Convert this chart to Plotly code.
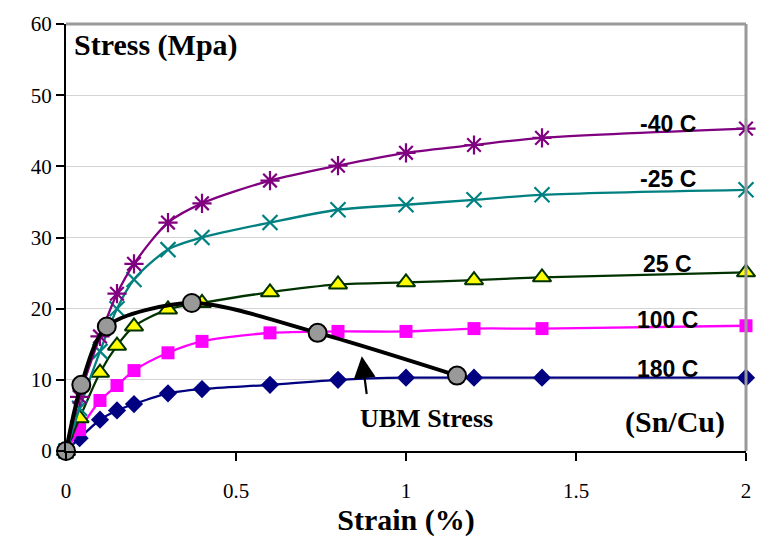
import plotly.graph_objects as go

# ---- data ----
strain = [0, 0.04, 0.1, 0.15, 0.2, 0.3, 0.4, 0.6, 0.8, 1.0, 1.2, 1.4, 2.0]
s_m40 = [0, 7.6, 16.1, 22.1, 26.3, 32.1, 34.8, 38.0, 40.1, 41.9, 43.0, 44.0, 45.3]
s_m25 = [0, 6.0, 14.0, 20.0, 24.1, 28.3, 30.0, 32.1, 33.9, 34.6, 35.3, 36.0, 36.7]
s_25 = [0, 4.6, 11.0, 14.8, 17.5, 19.9, 20.8, 22.3, 23.4, 23.7, 24.0, 24.4, 25.1]
s_100 = [0, 3.0, 7.1, 9.2, 11.3, 13.8, 15.4, 16.6, 16.8, 16.8, 17.2, 17.2, 17.6]
s_180 = [0, 1.8, 4.4, 5.7, 6.6, 8.1, 8.7, 9.3, 10.0, 10.3, 10.3, 10.3, 10.3]

ubm_strain = [0, 0.045, 0.12, 0.37, 0.74, 1.15]
ubm_stress = [0, 9.3, 17.5, 20.8, 16.6, 10.6]

series_labels = ["-40 C", "-25 C", "25 C", "100 C", "180 C"]
label_x = [1.77, 1.77, 1.77, 1.77, 1.77]
label_y = [46.0, 38.2, 26.3, 18.4, 11.5]

x_ticks = [0, 0.5, 1, 1.5, 2]
x_tick_text = ["0", "0.5", "1", "1.5", "2"]
y_ticks = [0, 10, 20, 30, 40, 50, 60]

SERIF = "Liberation Serif"
SANS = "Liberation Sans, Arial, sans-serif"

fig = go.Figure()

styles = [
    (s_180, "#000080", dict(symbol="diamond", size=14, color="#000080", line=dict(width=0))),
    (s_100, "#FF00FF", dict(symbol="square", size=13, color="#FF00FF", line=dict(width=0))),
    (s_25, "#003300", dict(symbol="triangle-up", size=16, color="#FFFF00", line=dict(width=2, color="#003300"))),
    (s_m25, "#008080", dict(symbol="x-thin-open", size=15, color="#008080", line=dict(width=2.2, color="#008080"))),
    (s_m40, "#800080", dict(symbol="asterisk-open", size=16, color="#800080", line=dict(width=2.2, color="#800080"))),
]
for ys, col, mk in styles:
    fig.add_trace(go.Scatter(
        x=strain, y=ys, mode="lines+markers",
        line=dict(color=col, width=2.3, shape="spline", smoothing=0.8),
        marker=mk, cliponaxis=False, showlegend=False, hoverinfo="skip"))

fig.add_trace(go.Scatter(
    x=ubm_strain, y=ubm_stress, mode="lines+markers",
    line=dict(color="black", width=4, shape="spline", smoothing=0.8),
    marker=dict(symbol="circle", size=18, color="#999999", line=dict(width=2, color="black")),
    cliponaxis=False, showlegend=False, hoverinfo="skip"))

annotations = []
for t, xv, yv in zip(series_labels, label_x, label_y):
    annotations.append(dict(x=xv, y=yv, xref="x", yref="y", text="<b>%s</b>" % t,
                            showarrow=False, font=dict(family=SANS, size=23, color="black"),
                            xanchor="center", yanchor="middle"))
annotations += [
    dict(x=0.018, y=57.1, xref="x", yref="y", text="<b>Stress (Mpa)</b>", showarrow=False,
         xanchor="left", yanchor="middle", font=dict(family=SERIF, size=30, color="black")),
    dict(x=1.06, y=4.6, xref="x", yref="y", text="<b>UBM Stress</b>", showarrow=False,
         xanchor="center", yanchor="middle", font=dict(family=SERIF, size=26, color="black")),
    dict(x=1.79, y=4.1, xref="x", yref="y", text="<b>(Sn/Cu)</b>", showarrow=False,
         xanchor="center", yanchor="middle", font=dict(family=SERIF, size=30, color="black")),
    dict(x=0.87, y=13.3, ax=0.885, ay=7.8, xref="x", yref="y", axref="x", ayref="y",
         text="", showarrow=True, arrowhead=2, arrowsize=2.0, arrowwidth=2.2, arrowcolor="black"),
]

fig.update_layout(
    width=763, height=542,
    margin=dict(l=66, r=17, t=17, b=90),
    paper_bgcolor="white", plot_bgcolor="white",
    annotations=annotations,
    shapes=[
        dict(type="line", xref="paper", yref="paper", x0=0, x1=1, y0=1, y1=1,
             line=dict(color="#999999", width=3)),
        dict(type="line", xref="paper", yref="paper", x0=1, x1=1, y0=0, y1=1,
             line=dict(color="#999999", width=3)),
    ],
    xaxis=dict(range=[0, 2], tickvals=x_ticks, ticktext=x_tick_text,
               showgrid=False, zeroline=False, showline=True, linecolor="black", linewidth=2,
               ticks="outside", ticklen=8, tickwidth=1.5, tickcolor="black",
               ticklabelstandoff=12,
               tickfont=dict(family=SERIF, size=21, color="black"),
               title=dict(text="<b>Strain (%)</b>", font=dict(family=SERIF, size=30, color="black"),
                          standoff=6)),
    yaxis=dict(range=[0, 60], tickvals=y_ticks,
               showgrid=True, gridcolor="#D4D4D4", gridwidth=1,
               zeroline=False, showline=True, linecolor="black", linewidth=2,
               ticks="outside", ticklen=8, tickwidth=1.5, tickcolor="black",
               tickfont=dict(family=SERIF, size=21, color="black")),
)

fig.write_html("out.html")
